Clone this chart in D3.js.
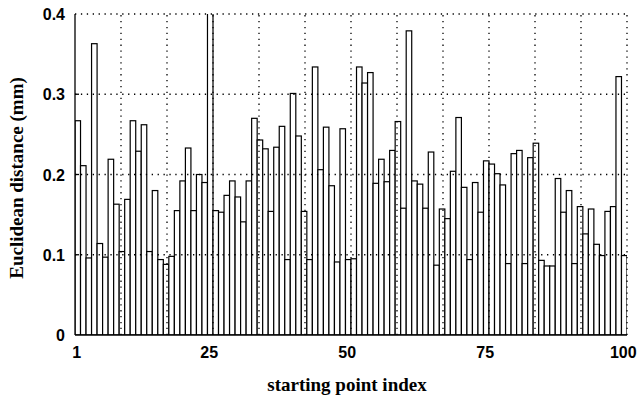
<!DOCTYPE html>
<html>
<head>
<meta charset="utf-8">
<script src="https://cdn.jsdelivr.net/npm/d3@7"></script>
<style>
  body { margin: 0; background: #fff; }
  svg { display: block; }
  .tick-label { font-family: "Liberation Sans", Arial, sans-serif; font-weight: bold; font-size: 16px; fill: #000; }
  .axis-title { font-family: "Liberation Serif", "Times New Roman", serif; font-weight: bold; font-size: 19px; fill: #000; }
</style>
</head>
<body>
<svg id="chart" width="639" height="400"></svg>
<script>
// starting point index 1..100, one bar each
const pointIndex = d3.range(1, 101);

// Euclidean distance (mm), bar by bar
const distance = [
  0.267, 0.211, 0.096, 0.363, 0.114, 0.097, 0.219, 0.163, 0.104, 0.169,
  0.267, 0.229, 0.262, 0.104, 0.180, 0.094, 0.088, 0.098, 0.155, 0.192,
  0.233, 0.155, 0.200, 0.190, 0.410, 0.155, 0.153, 0.174, 0.192, 0.172,
  0.141, 0.192, 0.270, 0.243, 0.232, 0.154, 0.234, 0.260, 0.094, 0.301,
  0.248, 0.154, 0.094, 0.334, 0.206, 0.259, 0.186, 0.091, 0.257, 0.094,
  0.095, 0.334, 0.314, 0.327, 0.189, 0.219, 0.191, 0.230, 0.266, 0.158,
  0.379, 0.192, 0.188, 0.158, 0.228, 0.087, 0.157, 0.145, 0.204, 0.271,
  0.184, 0.094, 0.190, 0.153, 0.217, 0.213, 0.201, 0.187, 0.089, 0.226,
  0.230, 0.089, 0.221, 0.239, 0.093, 0.086, 0.086, 0.195, 0.153, 0.180,
  0.089, 0.160, 0.126, 0.157, 0.113, 0.099, 0.154, 0.160, 0.322, 0.099
];

const xTickValues = [1, 25, 50, 75, 100];
const yTickValues = [0, 0.1, 0.2, 0.3, 0.4];
const xGridCount = 12;   // vertical dotted lines split the box in 12

const xTitle = "starting point index";
const yTitle = "Euclidean distance (mm)";

const width = 639, height = 400;
const margin = { top: 14, right: 12, bottom: 65, left: 75 };

const svg = d3.select('#chart');

// bar i covers [i, i+1]
const x = d3.scaleLinear().domain([1, 101]).range([margin.left, width - margin.right]);
const y = d3.scaleLinear().domain([0, 0.4]).range([height - margin.bottom, margin.top]);

svg.append('clipPath').attr('id', 'plotClip')
  .append('rect')
  .attr('x', x(1)).attr('y', y(0.4))
  .attr('width', x(101) - x(1)).attr('height', y(0) - y(0.4));

// 1) bars: white fill, black outline
svg.append('g')
  .attr('clip-path', 'url(#plotClip)')
  .selectAll('rect')
  .data(pointIndex)
  .enter()
  .append('rect')
  .attr('x', d => x(d))
  .attr('width', d => x(d + 1) - x(d))
  .attr('y', (d, i) => y(distance[i]))
  .attr('height', (d, i) => y(0) - y(distance[i]))
  .attr('fill', '#fff')
  .attr('stroke', '#000')
  .attr('stroke-width', 1.2);

// 2) dotted grid, drawn over the bars
const grid = svg.append('g')
  .attr('stroke', '#000')
  .attr('stroke-width', 1.3)
  .attr('stroke-dasharray', '1.3,4.6');

const xGrid = d3.range(1, xGridCount + 1).map(k => 1 + k * 100 / xGridCount);
grid.selectAll('line.v')
  .data(xGrid)
  .enter()
  .append('line')
  .attr('class', 'v')
  .attr('x1', d => x(d)).attr('x2', d => x(d))
  .attr('y1', y(0)).attr('y2', y(0.4));

grid.selectAll('line.h')
  .data(yTickValues.slice(1))
  .enter()
  .append('line')
  .attr('class', 'h')
  .attr('x1', x(1)).attr('x2', x(101))
  .attr('y1', d => y(d)).attr('y2', d => y(d));

// 3) solid left and bottom axes with small inward ticks
const axes = svg.append('g').attr('stroke', '#000').attr('stroke-width', 1.3);
axes.append('line')
  .attr('x1', x(1)).attr('x2', x(1))
  .attr('y1', y(0)).attr('y2', y(0.4));
axes.append('line')
  .attr('x1', x(1)).attr('x2', x(101))
  .attr('y1', y(0)).attr('y2', y(0));
axes.selectAll('line.yt')
  .data(yTickValues.slice(1, 4))
  .enter()
  .append('line')
  .attr('class', 'yt')
  .attr('x1', x(1)).attr('x2', x(1) + 4)
  .attr('y1', d => y(d)).attr('y2', d => y(d));

// 4) tick labels
svg.append('g')
  .selectAll('text')
  .data(yTickValues)
  .enter()
  .append('text')
  .attr('class', 'tick-label')
  .attr('x', x(1) - 10)
  .attr('y', d => y(d) + 6)
  .attr('text-anchor', 'end')
  .text(d => d === 0 ? '0' : d3.format('.1f')(d));

svg.append('g')
  .selectAll('text')
  .data(xTickValues)
  .enter()
  .append('text')
  .attr('class', 'tick-label')
  .attr('x', d => x(d + 0.5) - 1)
  .attr('y', y(0) + 23)
  .attr('text-anchor', 'middle')
  .text(d => d);

// 5) axis titles
svg.append('text')
  .attr('class', 'axis-title')
  .attr('x', 347)
  .attr('y', 391)
  .attr('text-anchor', 'middle')
  .text(xTitle);

svg.append('text')
  .attr('class', 'axis-title')
  .attr('transform', 'translate(23,' + 178 + ') rotate(-90)')
  .attr('text-anchor', 'middle')
  .text(yTitle);
</script>
</body>
</html>
